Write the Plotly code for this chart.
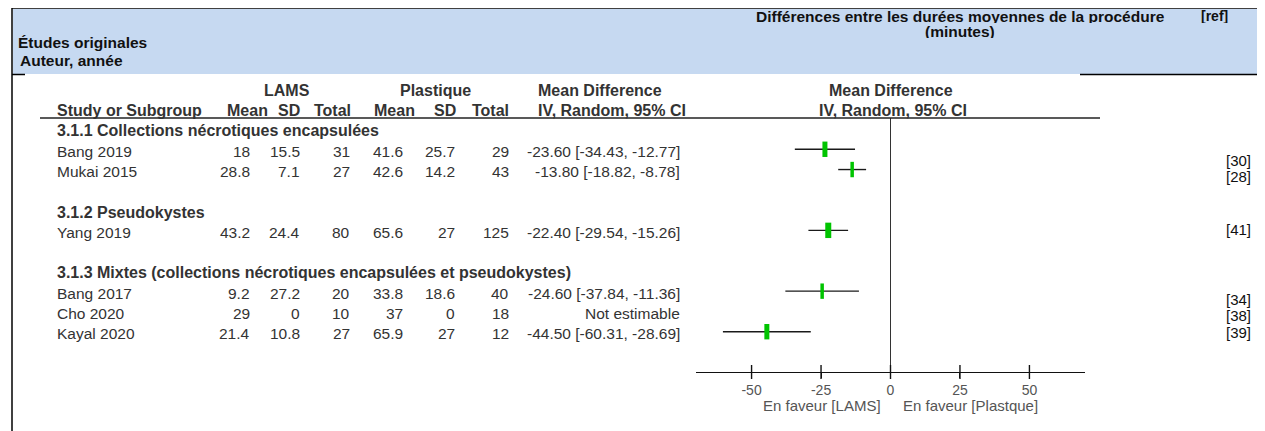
import plotly.graph_objects as go

# ---------------- data ----------------
subgroups = [
    "3.1.1 Collections nécrotiques encapsulées",
    "3.1.2 Pseudokystes",
    "3.1.3 Mixtes (collections nécrotiques encapsulées et pseudokystes)",
]
studies = ["Bang 2019", "Mukai 2015", "Yang 2019", "Bang 2017", "Cho 2020", "Kayal 2020"]
study_group = [0, 0, 1, 2, 2, 2]
lams_mean = [18, 28.8, 43.2, 9.2, 29, 21.4]
lams_sd = [15.5, 7.1, 24.4, 27.2, 0, 10.8]
lams_n = [31, 27, 80, 20, 10, 27]
pl_mean = [41.6, 42.6, 65.6, 33.8, 37, 65.9]
pl_sd = [25.7, 14.2, 27, 18.6, 0, 27]
pl_n = [29, 43, 125, 40, 18, 12]
md = [-23.60, -13.80, -22.40, -24.60, None, -44.50]
ci_lo = [-34.43, -18.82, -29.54, -37.84, None, -60.31]
ci_hi = [-12.77, -8.78, -15.26, -11.36, None, -28.69]
refs = ["[30]", "[28]", "[41]", "[34]", "[38]", "[39]"]
tick_vals = [-50, -25, 0, 25, 50]
tick_text = ["-50", "-25", "0", "25", "50"]

# ---------------- styles / layout ----------------
W, H = 1265, 431                   # browser window
OFF = 8                            # page body margin
FW, FH = W - OFF, H - OFF          # figure size
ROW0, ROWH = 129.0, 20.27          # pixel y of first table row, row pitch
AX_Y, TOP_Y = 372, 118             # x-axis line, header underline
PLOT_X0, PLOT_X1 = 696, 1085
box_w = [5, 3.5, 6, 3.5, 0, 5]     # weight boxes (stroke widths)
TXT = "#333333"
HDR = "#333333"
FS = 15.5
FSB = 16
HFS = 15.5
BLUE = "#c6d9f1"
GREEN = "#00c400"
FONT = "Liberation Sans, Arial"
ref_y_px = [160, 176, 229, 299, 315, 332]

# build row list
rows = []   # (kind, payload)
for g, name in enumerate(subgroups):
    if g > 0:
        rows.append(("blank", None))
    rows.append(("group", name))
    for i, sg in enumerate(study_group):
        if sg == g:
            rows.append(("study", i))
study_row = {p: r for r, (k, p) in enumerate(rows) if k == "study"}


def xp(x):
    return (x - OFF) / FW


def yp(y):
    return 1 - (y - OFF) / FH


def row_y(r):
    return ROW0 + ROWH * r + 2


def fmt(v):
    return f"{v:g}"


ann = []


def add(text, x, y, anchor="left", size=FS, color=TXT, bold=False, box_h=None):
    a = dict(
        text=f"<b>{text}</b>" if bold else text, x=xp(x), y=yp(y),
        xref="paper", yref="paper", xanchor=anchor, yanchor="middle",
        showarrow=False, font=dict(family=FONT, size=size, color=color),
    )
    if box_h:
        a.update(height=box_h, valign="middle", borderpad=0)
    ann.append(a)


# page header
add("Études originales", 16, 42, "left", HFS, "#111", True)
add("Auteur, année", 18, 61, "left", HFS, "#111", True)
add("Différences entre les durées moyennes de la procédure", 960, 16, "center", HFS, "#111", True, 14)
add("(minutes)", 960, 31, "center", HFS, "#111", True, 14)
add("[ref]", 1229, 16, "right", 14, "#111", True, 14)

# table headers
h1, h2 = row_y(-2), row_y(-1)
add("LAMS", 287, h1, "center", FSB, HDR, True)
add("Plastique", 435, h1, "center", FSB, HDR, True)
add("Mean Difference", 600, h1, "center", FSB, HDR, True)
add("Mean Difference", 891, h1, "center", FSB, HDR, True)
add("Study or Subgroup", 55, h2, "left", FSB, HDR, True)
add("Mean", 247, h2, "center", FSB, HDR, True)
add("SD", 302, h2, "right", FSB, HDR, True)
add("Total", 353, h2, "right", FSB, HDR, True)
add("Mean", 394, h2, "center", FSB, HDR, True)
add("SD", 458, h2, "right", FSB, HDR, True)
add("Total", 511, h2, "right", FSB, HDR, True)
add("IV, Random, 95% CI", 612, h2, "center", FSB, HDR, True)
add("IV, Random, 95% CI", 893, h2, "center", FSB, HDR, True)

for r, (kind, p) in enumerate(rows):
    y = row_y(r)
    if kind == "group":
        add(p, 55, y, "left", FSB, HDR, True)
    elif kind == "study":
        i = p
        add(studies[i], 55, y)
        add(fmt(lams_mean[i]), 252, y, "right")
        add(fmt(lams_sd[i]), 302, y, "right")
        add(fmt(lams_n[i]), 352, y, "right")
        add(fmt(pl_mean[i]), 405, y, "right")
        add(fmt(pl_sd[i]), 457, y, "right")
        add(fmt(pl_n[i]), 511, y, "right")
        if md[i] is None:
            ci = "Not estimable"
        else:
            ci = f"{md[i]:.2f} [{ci_lo[i]:.2f}, {ci_hi[i]:.2f}]"
        add(ci, 682, y, "right")

# refs column
for t, y in zip(refs, ref_y_px):
    add(t, 1253, y, "right", size=15, color="#111")

# axis captions
add("En faveur [LAMS]", 822, 405, "center", 15, "#555")
add("En faveur [Plastque]", 970, 405, "center", 15, "#555")

# ---------------- traces ----------------
xs, ys, ep, em, bw = [], [], [], [], []
for i in range(len(studies)):
    if md[i] is None:
        continue
    xs.append(md[i])
    ys.append(study_row[i])
    ep.append(ci_hi[i] - md[i])
    em.append(md[i] - ci_lo[i])
    bw.append(box_w[i])

y_bottom = (AX_Y - ROW0) / ROWH
y_top = (TOP_Y - ROW0) / ROWH

fig = go.Figure()
fig.add_trace(go.Scatter(
    x=xs, y=ys, mode="markers",
    marker=dict(symbol="line-ns", size=11, color=GREEN, line=dict(color=GREEN, width=bw)),
    error_x=dict(type="data", symmetric=False, array=ep, arrayminus=em,
                 thickness=1.4, width=0, color="#1a1a1a"),
    showlegend=False, hoverinfo="skip",
))
# tick marks crossing the axis line (RevMan style)
fig.add_trace(go.Scatter(
    x=tick_vals, y=[y_bottom] * len(tick_vals), mode="markers", cliponaxis=False,
    marker=dict(symbol="line-ns", size=10, color="#111", line=dict(color="#111", width=1.4)),
    showlegend=False, hoverinfo="skip",
))

shapes = [
    dict(type="rect", xref="paper", yref="paper", x0=xp(13), x1=1, y0=yp(74), y1=yp(9),
         fillcolor=BLUE, line=dict(width=0), layer="below"),
    dict(type="line", xref="paper", yref="paper", x0=xp(12), x1=1, y0=yp(8), y1=yp(8),
         line=dict(color="#000", width=1.5)),
    dict(type="line", xref="paper", yref="paper", x0=xp(12), x1=xp(12), y0=yp(8), y1=0,
         line=dict(color="#000", width=1.5)),
    dict(type="line", xref="paper", yref="paper", x0=xp(12), x1=xp(25), y0=yp(74.5), y1=yp(74.5),
         line=dict(color="#000", width=1.5)),
    dict(type="line", xref="paper", yref="paper", x0=xp(1080), x1=1, y0=yp(74.5), y1=yp(74.5),
         line=dict(color="#000", width=1.5)),
    dict(type="line", xref="paper", yref="paper", x0=xp(40), x1=xp(1100), y0=yp(TOP_Y), y1=yp(TOP_Y),
         line=dict(color="#222", width=1.5)),
]

fig.update_layout(
    width=FW, height=FH, margin=dict(l=0, r=0, t=0, b=0),
    paper_bgcolor="white", plot_bgcolor="rgba(0,0,0,0)",
    xaxis=dict(domain=[xp(PLOT_X0), xp(PLOT_X1)], range=[-70, 70],
               tickvals=tick_vals, ticktext=tick_text, showgrid=False,
               ticks="outside", ticklen=5, tickwidth=1.4, tickcolor="#111",
               showline=True, linecolor="#111", linewidth=1.4,
               zeroline=True, zerolinecolor="#333", zerolinewidth=1.4,
               tickfont=dict(family=FONT, size=14, color="#555"), fixedrange=True),
    yaxis=dict(domain=[1 - (AX_Y - OFF) / FH, 1 - (TOP_Y - OFF) / FH],
               range=[y_bottom, y_top], visible=False, fixedrange=True),
    annotations=ann, shapes=shapes, showlegend=False,
)
fig.write_html("out.html")
